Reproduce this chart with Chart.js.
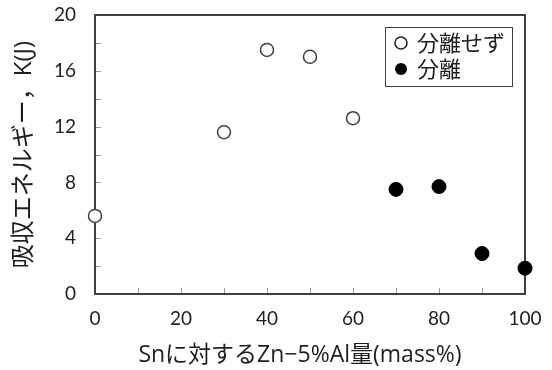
<!DOCTYPE html>
<html lang="ja">
<head>
    <meta charset="UTF-8">
    <script src="https://cdn.jsdelivr.net/npm/chart.js"></script>
    <title>吸収エネルギー</title>
    <style>
        html, body { margin: 0; padding: 0; background: #fff; }
    </style>
</head>
<body>
<canvas id="energyChart" width="552" height="370"></canvas>

<script>
    // Zn-5%Al content vs absorbed energy
    const xNoSep = [0, 30, 40, 50, 60];
    const kNoSep = [5.6, 11.6, 17.5, 17.0, 12.6];
    const xSep = [70, 80, 90, 100];
    const kSep = [7.5, 7.7, 2.9, 1.85];
    const seriesNames = ['分離せず', '分離'];
    const xTitle = 'Snに対するZn−5%Al量(mass%)';
    const yTitle = '吸収エネルギー，K(J)';

    const FONT = 'Lato, "Noto Sans CJK JP", sans-serif';
    const TITLE_FONT = '"Open Sans", "Noto Sans CJK JP", sans-serif';
    const AXIS = '#404040';
    const TEXT = '#1e1e1e';

    function toPoints(xs, ys) {
        return xs.map((x, i) => ({x: x, y: ys[i]}));
    }

    // box round the plot plus small inside ticks
    const frame = {
        id: 'plotFrame',
        beforeDatasetsDraw(chart) {
            const ctx = chart.ctx;
            const a = chart.chartArea;
            const sx = chart.scales.x, sy = chart.scales.y;
            ctx.save();
            ctx.lineWidth = 1;
            ctx.strokeStyle = '#9a9a9a';
            ctx.beginPath();
            for (let v = 2; v < 20; v += 2) {
                const y = Math.round(sy.getPixelForValue(v)) + 0.5;
                ctx.moveTo(a.left, y);
                ctx.lineTo(a.left + 6, y);
            }
            for (let v = 10; v < 100; v += 10) {
                const x = Math.round(sx.getPixelForValue(v)) + 0.5;
                ctx.moveTo(x, a.bottom);
                ctx.lineTo(x, a.bottom - 6);
            }
            ctx.stroke();

            ctx.lineWidth = 2;
            ctx.strokeStyle = AXIS;
            ctx.beginPath();
            ctx.moveTo(a.left, a.top);
            ctx.lineTo(a.right, a.top);
            ctx.lineTo(a.right, a.bottom);
            ctx.lineTo(a.left, a.bottom);
            ctx.closePath();
            ctx.stroke();
            ctx.restore();
        }
    };

    // x axis title sits a little left of the plot centre
    const xLabel = {
        id: 'xLabel',
        afterDraw(chart) {
            const ctx = chart.ctx;
            ctx.save();
            ctx.font = '23px ' + TITLE_FONT;
            ctx.fillStyle = TEXT;
            ctx.textAlign = 'center';
            ctx.textBaseline = 'middle';
            ctx.fillText(xTitle, 300, 355);
            ctx.restore();
        }
    };

    // legend box in the upper right corner
    const boxLegend = {
        id: 'boxLegend',
        afterDraw(chart) {
            const ctx = chart.ctx;
            ctx.save();
            ctx.lineWidth = 1;
            ctx.strokeStyle = AXIS;
            ctx.fillStyle = '#fff';
            ctx.fillRect(385, 27, 128, 60);
            ctx.strokeRect(385.5, 27.5, 127, 59);
            ctx.font = '22px ' + FONT;
            ctx.textBaseline = 'middle';
            chart.data.datasets.forEach((ds, i) => {
                const y = 43 + i * 26;
                ctx.beginPath();
                ctx.arc(401, y, 6, 0, Math.PI * 2);
                if (i === 0) {
                    ctx.lineWidth = 1.5;
                    ctx.strokeStyle = '#222';
                    ctx.stroke();
                } else {
                    ctx.fillStyle = '#000';
                    ctx.fill();
                }
                ctx.fillStyle = TEXT;
                ctx.fillText(ds.label, 417, y + 1);
            });
            ctx.restore();
        }
    };

    new Chart(document.getElementById('energyChart'), {
        type: 'scatter',
        data: {
            datasets: [{
                label: seriesNames[0],
                data: toPoints(xNoSep, kNoSep),
                pointRadius: 6.5,
                pointHoverRadius: 6.5,
                pointBackgroundColor: '#fff',
                pointBorderColor: AXIS,
                pointBorderWidth: 1.5,
                clip: false
            }, {
                label: seriesNames[1],
                data: toPoints(xSep, kSep),
                pointRadius: 7,
                pointHoverRadius: 7,
                pointBackgroundColor: '#000',
                pointBorderColor: '#000',
                pointBorderWidth: 1,
                clip: false
            }]
        },
        options: {
            responsive: false,
            animation: false,
            devicePixelRatio: 1,
            layout: {padding: {top: 15, right: 27, left: 0, bottom: 0}},
            plugins: {legend: {display: false}, tooltip: {enabled: false}},
            scales: {
                x: {
                    type: 'linear',
                    min: 0,
                    max: 100,
                    afterFit: s => { s.height = 76; s.paddingLeft = 0; s.paddingRight = 0; },
                    grid: {display: false, drawTicks: false},
                    border: {display: false},
                    ticks: {stepSize: 20, padding: 13, color: TEXT, font: {family: FONT, size: 19}},
                    title: {display: false}
                },
                y: {
                    min: 0,
                    max: 20,
                    afterFit: s => { s.width = 95; s.paddingTop = 0; s.paddingBottom = 0; },
                    grid: {display: false, drawTicks: false},
                    border: {display: false},
                    ticks: {stepSize: 4, padding: 19, color: TEXT, font: {family: FONT, size: 19}},
                    title: {
                        display: true,
                        text: yTitle,
                        color: TEXT,
                        font: {family: TITLE_FONT, size: 24},
                        padding: {top: 10, bottom: 0}
                    }
                }
            }
        },
        plugins: [frame, xLabel, boxLegend]
    });
</script>
</body>
</html>
